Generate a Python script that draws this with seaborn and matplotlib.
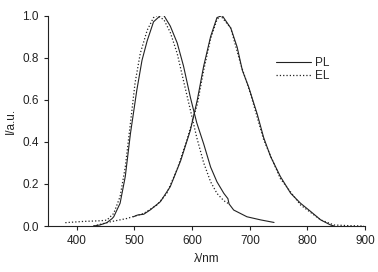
import numpy as np
import pandas as pd
import seaborn as sns
import matplotlib
matplotlib.use("Agg")
import matplotlib.pyplot as plt

# green emitter, photoluminescence (solid)
pl1_nm = [429, 440, 452, 461, 464, 475, 484, 493, 504, 513, 522, 533, 545, 551, 562,
          574, 585, 597, 608, 620, 632, 643, 655, 662, 664, 672, 695, 719, 742]
pl1_i = [0.0, 0.005, 0.016, 0.035, 0.044, 0.108, 0.235, 0.44, 0.645, 0.787, 0.88, 0.97, 1.0, 1.0, 0.95,
         0.87, 0.76, 0.61, 0.49, 0.39, 0.28, 0.21, 0.155, 0.13, 0.105, 0.076, 0.044, 0.029, 0.017]

# green emitter, electroluminescence (dotted)
el1_nm = [380, 412, 441, 452, 464, 475, 484, 493, 501, 510, 522, 533, 539, 551, 562,
          574, 585, 597, 608, 620, 632, 643, 655, 664]
el1_i = [0.016, 0.022, 0.025, 0.028, 0.06, 0.14, 0.28, 0.49, 0.68, 0.82, 0.93, 0.99, 1.0, 0.98, 0.92,
         0.82, 0.69, 0.55, 0.42, 0.30, 0.21, 0.155, 0.12, 0.105]

# red emitter, photoluminescence (solid)
pl2_nm = [498, 505, 516, 527, 545, 562, 580, 597, 609, 620, 632, 643, 652, 667, 678,
          687, 698, 713, 724, 736, 753, 771, 788, 806, 823, 840, 846]
pl2_i = [0.044, 0.052, 0.056, 0.076, 0.116, 0.187, 0.31, 0.456, 0.60, 0.76, 0.90, 0.99, 1.0, 0.94, 0.85,
         0.74, 0.66, 0.53, 0.42, 0.33, 0.235, 0.155, 0.108, 0.068, 0.029, 0.005, 0.0]

# red emitter, electroluminescence (dotted)
el2_nm = [429, 458, 487, 516, 539, 556, 574, 591, 609, 620, 632, 643, 649, 667, 684,
          701, 724, 753, 788, 823, 846, 870, 898]
el2_i = [0.0, 0.02, 0.036, 0.06, 0.1, 0.155, 0.27, 0.41, 0.58, 0.74, 0.89, 0.98, 1.0, 0.94, 0.77,
         0.63, 0.41, 0.225, 0.10, 0.029, 0.005, 0.002, 0.0]

sns.set_style("ticks")
plt.rcParams['font.family'] = ['Liberation Sans', 'DejaVu Sans']

fig, ax = plt.subplots(figsize=(3.78, 2.72), dpi=100)
fig.subplots_adjust(left=0.127, right=0.966, bottom=0.169, top=0.943)

c = "#222222"
sns.lineplot(x=pl1_nm, y=pl1_i, ax=ax, color=c, lw=0.8, label="PL")
sns.lineplot(x=el1_nm, y=el1_i, ax=ax, color=c, lw=0.9, linestyle=":", label="EL")
sns.lineplot(x=pl2_nm, y=pl2_i, ax=ax, color=c, lw=0.8)
sns.lineplot(x=el2_nm, y=el2_i, ax=ax, color=c, lw=0.9, linestyle=":")

ax.set_xlim(350, 900)
ax.set_ylim(0, 1.0)
ax.set_xticks([400, 500, 600, 700, 800, 900])
ax.set_yticks([0.0, 0.2, 0.4, 0.6, 0.8, 1.0])
ax.set_yticklabels(["0.0", "0.2", "0.4", "0.6", "0.8", "1.0"])
ax.tick_params(labelsize=8.5, length=3, width=0.8, color=c, labelcolor=c)
for s in ["left", "bottom"]:
    ax.spines[s].set_linewidth(0.8)
    ax.spines[s].set_color(c)
sns.despine(ax=ax)
ax.set_xlabel("λ/nm", fontsize=8.5, color=c)
ax.set_ylabel("I/a.u.", fontsize=8.5, color=c)

ax.legend(loc="upper left", bbox_to_anchor=(0.7, 0.83), frameon=False, fontsize=8.5,
          handlelength=3.0, handletextpad=0.3, labelspacing=0.1, borderpad=0)

fig.savefig("out.png", dpi=100)
